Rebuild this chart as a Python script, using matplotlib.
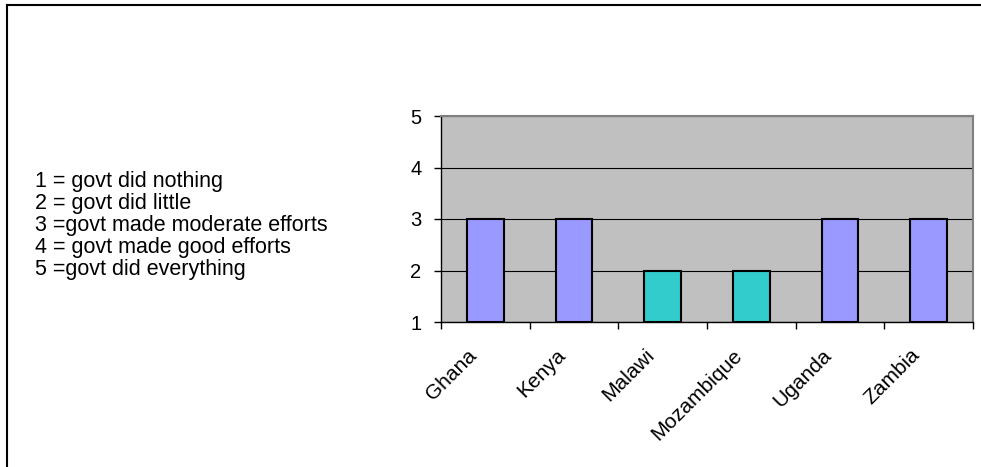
import matplotlib.pyplot as plt
import matplotlib.transforms as mtransforms
import numpy as np

plt.rcParams['font.family'] = ['Liberation Sans', 'DejaVu Sans']

countries = ["Ghana", "Kenya", "Malawi", "Mozambique", "Uganda", "Zambia"]
scores = [3, 3, 2, 2, 3, 3]
bar_colors = ["#9999FF", "#9999FF", "#33CCCC", "#33CCCC", "#9999FF", "#9999FF"]
scale_notes = [
    "1 = govt did nothing",
    "2 = govt did little",
    "3 =govt made moderate efforts",
    "4 = govt made good efforts",
    "5 =govt did everything",
]

fig = plt.figure(figsize=(9.81, 4.67), dpi=100)

# frame around the chart area (only top and left edges are visible)
W, H = 981, 467
fig.add_artist(plt.Line2D([7 / W, 1], [1 - 5 / H, 1 - 5 / H], color="black", lw=1.5))
fig.add_artist(plt.Line2D([7 / W, 7 / W], [0, 1 - 5 / H], color="black", lw=1.5))

ax = fig.add_axes([441 / W, 1 - 322 / H, (973 - 441) / W, (322 - 116) / H])
ax.set_facecolor("#C0C0C0")

x = np.arange(len(countries)) + 0.5
base = 1
ax.bar(x, [s - base for s in scores], bottom=base, width=0.41,
       color=bar_colors, edgecolor="black", linewidth=1.5, zorder=3)

ax.set_xlim(0, len(countries))
ax.set_ylim(1, 5)
ax.set_yticks([1, 2, 3, 4, 5])
ax.yaxis.grid(True, color="black", linewidth=0.8, zorder=1)
ax.set_axisbelow(True)

# ticks on category boundaries, labels at centres
ax.set_xticks(np.arange(len(countries) + 1))
ax.set_xticklabels([])
ax.set_xticks(x, minor=True)
ax.set_xticklabels(countries, minor=True, rotation=45, ha="right",
                   rotation_mode="default", fontsize=15)
ax.tick_params(axis="x", which="minor", length=0, pad=17)
ax.tick_params(axis="x", which="major", length=5, width=1, direction="out")
ax.tick_params(axis="y", length=5, width=1, direction="out", pad=9,
               labelsize=14.5)

offset = mtransforms.ScaledTranslation(-5 / 100, 0, fig.dpi_scale_trans)
for lbl in ax.get_xticklabels(minor=True):
    lbl.set_transform(lbl.get_transform() + offset)

for side in ["left", "bottom"]:
    ax.spines[side].set_color("black")
    ax.spines[side].set_linewidth(1)
for side in ["top", "right"]:
    ax.spines[side].set_color("#808080")
    ax.spines[side].set_linewidth(1.5)

for i, note in enumerate(scale_notes):
    fig.text(35 / W, 1 - (182 + 22 * i) / H, note, fontsize=15.5,
             ha="left", va="center")

fig.savefig("out.png", dpi=100)
